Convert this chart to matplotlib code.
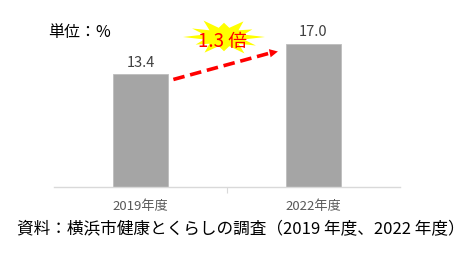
import numpy as np
import matplotlib
matplotlib.use('Agg')
import matplotlib.pyplot as plt
from matplotlib.patches import Polygon

plt.rcParams['font.family'] = ['Noto Sans CJK JP', 'DejaVu Sans']

# データ
years = ['2019年度', '2022年度']
values = [13.4, 17.0]
value_labels = ['13.4', '17.0']
ratio_text = '1.3 倍'
unit_text = '単位：%'
source_text = '資料：横浜市健康とくらしの調査（2019 年度、2022 年度）'

fig = plt.figure(figsize=(4.75, 2.55), dpi=100)
ax = fig.add_axes([54 / 475, 67 / 255, 346 / 475, 168 / 255])

x = np.arange(len(years))
ax.bar(x, values, width=0.32, color='#a5a5a5', edgecolor='#bdbdbd', linewidth=0.6, zorder=2)
ax.set_xlim(-0.5, 1.5)
ax.set_ylim(0, 20)

for xi, v, lab in zip(x, values, value_labels):
    ax.text(xi, v + 0.7, lab, ha='center', va='bottom', fontsize=10.5, color='#404040')

ax.set_xticks([0.5])
ax.set_xticklabels([''])
ax.tick_params(axis='x', length=4, color='#d9d9d9')
ax.set_yticks([])
for s in ['left', 'right', 'top']:
    ax.spines[s].set_visible(False)
ax.spines['bottom'].set_color('#d9d9d9')
ax.spines['bottom'].set_linewidth(1.0)
for xi, lab in zip(x, years):
    ax.text(xi, -1.4, lab, ha='center', va='top', fontsize=9.5, color='#595959')

# 矢印（破線）
x0, y0 = x[0] + 0.19, values[0] - 0.6
x1, y1 = x[1] - 0.22, values[1] - 0.9
ax.plot([x0, x1 - 0.04], [y0, y1 - 0.2], color='#ff0000', lw=2.6, ls=(0, (3.2, 1.6)), zorder=3)
ax.annotate('', xy=(x1 + 0.03, y1 + 0.1), xytext=(x1 - 0.05, y1 - 0.25),
            arrowprops=dict(arrowstyle='-|>,head_length=0.6,head_width=0.3',
                            color='#ff0000', lw=0), zorder=4)

# 星形（吹き出し）
cx, cy = 224 / 475, 1 - 38 / 255
n = 12
outer = [1.0, 0.8, 0.95, 0.75, 1.0, 0.9, 1.0, 0.8, 0.95, 0.75, 1.0, 0.9]
pts = []
for i in range(n * 2):
    a = np.pi * i / n
    r = outer[i // 2] if i % 2 == 0 else 0.5
    pts.append((cx + r * 41 / 475 * np.cos(a), cy + r * 19 / 255 * np.sin(a)))
fig.patches.append(Polygon(pts, closed=True, transform=fig.transFigure,
                           facecolor='#ffff00', edgecolor='none', zorder=1))
fig.text(223 / 475, 1 - 41 / 255, ratio_text, ha='center', va='center',
         fontsize=13.5, color='#ff0000')

fig.text(48 / 475, 1 - 33 / 255, unit_text, ha='left', va='center', fontsize=11.5, color='#000000')
fig.text(241 / 475, 1 - 230 / 255, source_text, ha='center', va='center', fontsize=12, color='#000000')

fig.savefig('out.png', dpi=100)
